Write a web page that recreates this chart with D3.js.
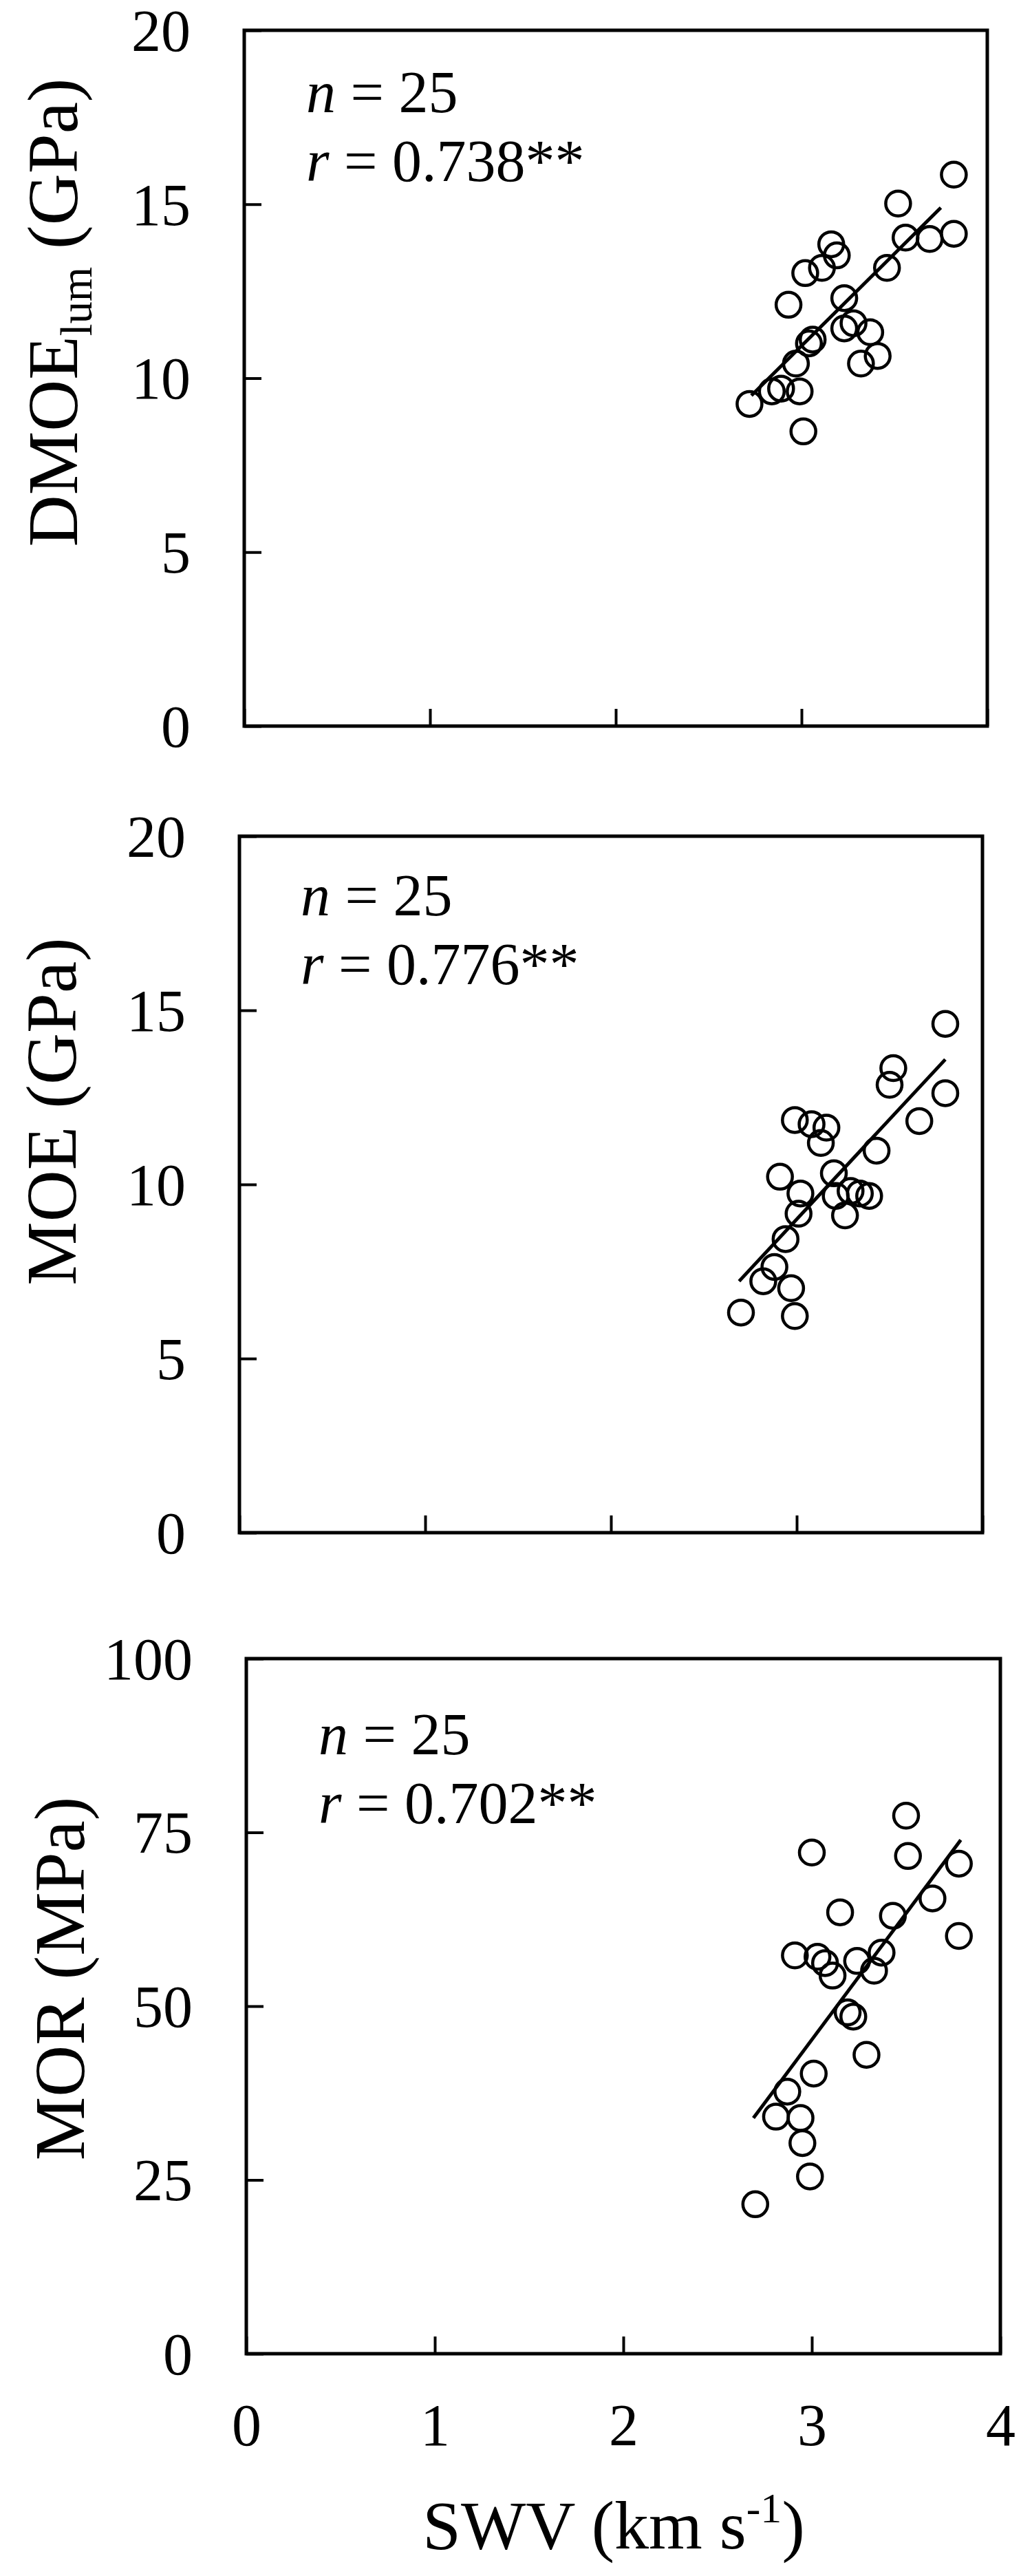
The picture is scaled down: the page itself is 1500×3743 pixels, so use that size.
<!DOCTYPE html>
<html>
<head>
<meta charset="utf-8">
<script src="https://cdn.jsdelivr.net/npm/d3@7/dist/d3.min.js"></script>
<style>
  html, body { margin: 0; padding: 0; background: #fff; }
  svg { display: block; }
  text { font-family: "Liberation Serif", "Times New Roman", serif; fill: #000; }
</style>
</head>
<body>
<svg id="chart" width="1500" height="3743"></svg>
<script>
// ---------------- DATA ----------------
const swv1  = [2.72, 2.84, 2.89, 2.97, 2.99, 3.01, 2.93, 3.02, 3.06, 3.04, 3.11, 3.16, 3.19, 3.23, 3.23, 3.28, 3.32, 3.37, 3.41, 3.46, 3.52, 3.56, 3.69, 3.82, 3.82];
const dmoe  = [9.26, 9.62, 9.70, 10.42, 9.62, 8.47, 12.11, 13.02, 11.11, 11.0, 13.17, 13.85, 13.53, 12.30, 11.43, 11.58, 10.42, 11.32, 10.64, 13.17, 15.02, 14.04, 14.0, 14.15, 15.85];

const swv2  = [2.70, 2.82, 2.88, 2.94, 2.97, 2.99, 2.91, 3.02, 3.01, 2.99, 3.08, 3.16, 3.13, 3.20, 3.21, 3.26, 3.29, 3.34, 3.39, 3.43, 3.50, 3.52, 3.66, 3.80, 3.80];
const moe   = [6.32, 7.22, 7.63, 8.43, 7.02, 6.22, 10.22, 9.74, 9.16, 11.85, 11.73, 11.63, 11.19, 10.32, 9.67, 9.11, 9.81, 9.74, 9.67, 10.97, 12.86, 13.34, 11.82, 12.62, 14.61];

const swv3  = [2.70, 2.81, 2.87, 2.94, 2.95, 2.99, 3.01, 2.91, 3.00, 3.03, 3.07, 3.11, 3.15, 3.19, 3.22, 3.24, 3.29, 3.33, 3.37, 3.43, 3.50, 3.51, 3.64, 3.78, 3.78];
const mor   = [21.5, 34.1, 37.7, 33.9, 30.3, 25.5, 40.3, 57.3, 72.1, 57.1, 56.2, 54.4, 63.5, 49.1, 48.5, 56.5, 43.0, 55.1, 57.7, 63.0, 77.4, 71.6, 65.5, 70.5, 60.1];

// fitted regression lines (end points)
const fit1 = [[2.73, 9.5], [3.75, 14.9]];
const fit2 = [[2.69, 7.22], [3.80, 13.59]];
const fit3 = [[2.69, 33.9], [3.79, 73.9]];

const xTicks  = [0, 1, 2, 3, 4];
const yTicksA = [0, 5, 10, 15, 20];
const yTicksB = [0, 25, 50, 75, 100];

const stats = [
  { n: "25", r: "0.738**" },
  { n: "25", r: "0.776**" },
  { n: "25", r: "0.702**" }
];

// ---------------- LAYOUT ----------------
const svg = d3.select("#chart");
const TICK_FS = 86, TITLE_FS = 104, STAT_FS = 86;

const panels = [
  { x: swv1, y: dmoe, fit: fit1, yMax: 20,  yTicks: yTicksA, box: [355, 1435, 44, 1055],
    title: "DMOE", sub: "lum", unit: " (GPa)", tx: 112, ty: 454, stat: stats[0], sx: 445, sy: 163, xLabels: false },
  { x: swv2, y: moe,  fit: fit2, yMax: 20,  yTicks: yTicksA, box: [348, 1428, 1215, 2227],
    title: "MOE", sub: null, unit: " (GPa)", tx: 110, ty: 1615, stat: stats[1], sx: 437, sy: 1330, xLabels: false },
  { x: swv3, y: mor,  fit: fit3, yMax: 100, yTicks: yTicksB, box: [358, 1454, 2410, 3420],
    title: "MOR", sub: null, unit: " (MPa)", tx: 122, ty: 2875, stat: stats[2], sx: 463, sy: 2549, xLabels: true }
];

panels.forEach(p => {
  const [L, R, T, B] = p.box;
  const xs = d3.scaleLinear().domain([0, 4]).range([L, R]);
  const ys = d3.scaleLinear().domain([0, p.yMax]).range([B, T]);

  // y axis
  const gy = svg.append("g").attr("transform", `translate(${L},0)`)
    .call(d3.axisLeft(ys).tickValues(p.yTicks).tickSize(-25).tickSizeOuter(0).tickPadding(78));
  gy.select(".domain").remove();
  gy.selectAll(".tick line").attr("stroke", "#000").attr("stroke-width", 4);
  gy.selectAll(".tick text").attr("font-size", TICK_FS).attr("dy", "0.34em")
    .style("font-family", '"Liberation Serif", serif');

  // x axis
  const gx = svg.append("g").attr("transform", `translate(0,${B})`)
    .call(d3.axisBottom(xs).tickValues(xTicks).tickSize(-25).tickSizeOuter(0).tickPadding(0)
      .tickFormat(p.xLabels ? d3.format("d") : () => ""));
  gx.select(".domain").remove();
  gx.selectAll(".tick line").attr("stroke", "#000").attr("stroke-width", 4);
  gx.selectAll(".tick text").attr("font-size", TICK_FS).attr("y", 133).attr("dy", 0)
    .style("font-family", '"Liberation Serif", serif');

  // frame
  svg.append("rect").attr("x", L).attr("y", T).attr("width", R - L).attr("height", B - T)
    .attr("fill", "none").attr("stroke", "#000").attr("stroke-width", 5);

  // regression line
  svg.append("line")
    .attr("x1", xs(p.fit[0][0])).attr("y1", ys(p.fit[0][1]))
    .attr("x2", xs(p.fit[1][0])).attr("y2", ys(p.fit[1][1]))
    .attr("stroke", "#000").attr("stroke-width", 5);

  // points
  svg.append("g").selectAll("circle").data(p.x.map((v, i) => [v, p.y[i]])).join("circle")
    .attr("cx", d => xs(d[0])).attr("cy", d => ys(d[1])).attr("r", 18)
    .attr("fill", "none").attr("stroke", "#000").attr("stroke-width", 4.5);

  // stats text
  const t1 = svg.append("text").attr("x", p.sx).attr("y", p.sy).attr("font-size", STAT_FS);
  t1.append("tspan").attr("font-style", "italic").text("n");
  t1.append("tspan").text(" = " + p.stat.n);
  const t2 = svg.append("text").attr("x", p.sx).attr("y", p.sy + 100).attr("font-size", STAT_FS);
  t2.append("tspan").attr("font-style", "italic").text("r");
  t2.append("tspan").text(" = " + p.stat.r);

  // y title
  const yt = svg.append("text").attr("transform", `translate(${p.tx},${p.ty}) rotate(-90)`)
    .attr("text-anchor", "middle").attr("font-size", TITLE_FS);
  yt.append("tspan").text(p.title);
  if (p.sub) {
    yt.append("tspan").attr("font-size", TITLE_FS * 0.62).attr("dy", "0.32em").text(p.sub);
    yt.append("tspan").attr("dy", "-0.2em").text(p.unit);
  } else {
    yt.append("tspan").text(p.unit);
  }
});

// x title
const xt = svg.append("text").attr("x", 892).attr("y", 3703).attr("text-anchor", "middle").attr("font-size", 100);
xt.append("tspan").text("SWV (km s");
xt.append("tspan").attr("font-size", 62).attr("dy", "-0.62em").text("-1");
xt.append("tspan").attr("dy", "0.385em").text(")");
</script>
</body>
</html>
